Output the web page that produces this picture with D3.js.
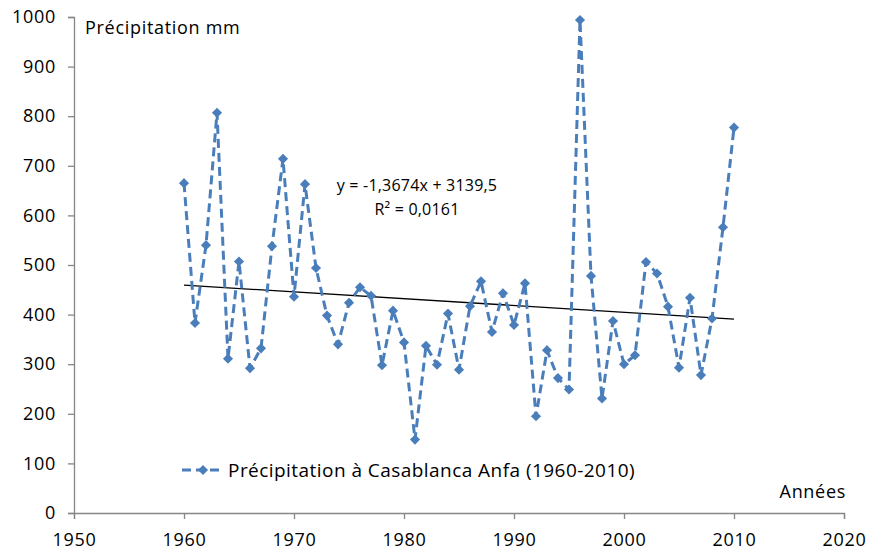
<!DOCTYPE html>
<html>
<head>
<meta charset="utf-8">
<script src="https://cdn.jsdelivr.net/npm/d3@7"></script>
<style>
  body { margin: 0; background: #fff; }
  text { font-family: "Open Sans", "Liberation Sans", sans-serif; fill: #000; letter-spacing: 0.7px; }
</style>
</head>
<body>
<svg id="chart" width="869" height="556"></svg>
<script>
// precipitation data
var years = d3.range(1960, 2011);
var rain = [
  665, 383, 540, 807, 311, 507, 292, 332, 538, 714,
  436, 663, 494, 398, 340, 424, 455, 438, 298, 408,
  344, 148, 337, 299, 402, 289, 417, 467, 365, 443,
  379, 463, 195, 328, 272, 249, 994, 478, 231, 387,
  300, 318, 506, 483, 416, 293, 434, 278, 392, 576, 777
];
var xTicks = [1950, 1960, 1970, 1980, 1990, 2000, 2010, 2020];
var yTicks = [0, 100, 200, 300, 400, 500, 600, 700, 800, 900, 1000];
var trendSlope = -1.3674;
var trendIntercept = 3139.5;
var trendR2 = 0.0161;
var seriesName = "Précipitation à Casablanca Anfa (1960-2010)";

var svg = d3.select("#chart");
var blue = "#4a7ebb";
var axisGrey = "#868686";

var x = d3.scaleLinear().domain([1950, 2020]).range([74, 844]);
var y = d3.scaleLinear().domain([0, 1000]).range([513, 17]);

// french style decimals, plain hyphen for minus
function frNum(v, digits) {
  return v.toFixed(digits).replace(".", ",");
}

// axes
var xAxis = svg.append("g")
  .attr("transform", "translate(0," + y(0) + ")")
  .call(d3.axisBottom(x).tickValues(xTicks).tickFormat(d3.format("d")).tickSizeOuter(0).tickSize(6).tickPadding(14));
var yAxis = svg.append("g")
  .attr("transform", "translate(" + x(1950) + ",0)")
  .call(d3.axisLeft(y).tickValues(yTicks).tickFormat(d3.format("d")).tickSizeOuter(0).tickSize(6).tickPadding(12));

[xAxis, yAxis].forEach(function (g) {
  g.selectAll("path, line").attr("stroke", axisGrey).attr("stroke-width", 1.3);
  g.selectAll("text").style("font-size", "18px").attr("fill", "#000");
});

// trend line
svg.append("line")
  .attr("x1", x(1960)).attr("y1", y(trendSlope * 1960 + trendIntercept))
  .attr("x2", x(2010)).attr("y2", y(trendSlope * 2010 + trendIntercept))
  .attr("stroke", "#000").attr("stroke-width", 1.3);

// series
var pts = years.map(function (yr, i) { return { yr: yr, v: rain[i] }; });
var line = d3.line().x(function (d) { return x(d.yr); }).y(function (d) { return y(d.v); });

svg.append("path")
  .datum(pts)
  .attr("d", line)
  .attr("fill", "none")
  .attr("stroke", blue)
  .attr("stroke-width", 3)
  .attr("stroke-dasharray", "9,5");

var diamond = d3.symbol().type(d3.symbolDiamond2).size(65);
svg.selectAll(".mk")
  .data(pts)
  .enter()
  .append("path")
  .attr("class", "mk")
  .attr("d", diamond)
  .attr("transform", function (d) { return "translate(" + x(d.yr) + "," + y(d.v) + ")"; })
  .attr("fill", blue);

// labels
svg.append("text").attr("x", 85).attr("y", 34).style("font-size", "18px").text("Précipitation mm");
svg.append("text").attr("x", 846).attr("y", 498).attr("text-anchor", "end").style("font-size", "18px").text("Années");

svg.append("text").attr("x", 417).attr("y", 191).attr("text-anchor", "middle").style("font-size", "16px")
  .style("letter-spacing", "0.2px")
  .text("y = " + frNum(trendSlope, 4) + "x + " + frNum(trendIntercept, 1));
svg.append("text").attr("x", 417).attr("y", 215).attr("text-anchor", "middle").style("font-size", "16px")
  .style("letter-spacing", "0.2px")
  .text("R² = " + frNum(trendR2, 4));

// legend
var lg = svg.append("g").attr("transform", "translate(182,470)");
lg.append("line").attr("x1", 0).attr("x2", 42).attr("y1", 0).attr("y2", 0)
  .attr("stroke", blue).attr("stroke-width", 3).attr("stroke-dasharray", "9,5");
lg.append("path").attr("d", diamond).attr("transform", "translate(21,0)").attr("fill", blue);
lg.append("text").attr("x", 46).attr("y", 7).style("font-size", "19px").style("letter-spacing", "0.45px").text(seriesName);
</script>
</body>
</html>
